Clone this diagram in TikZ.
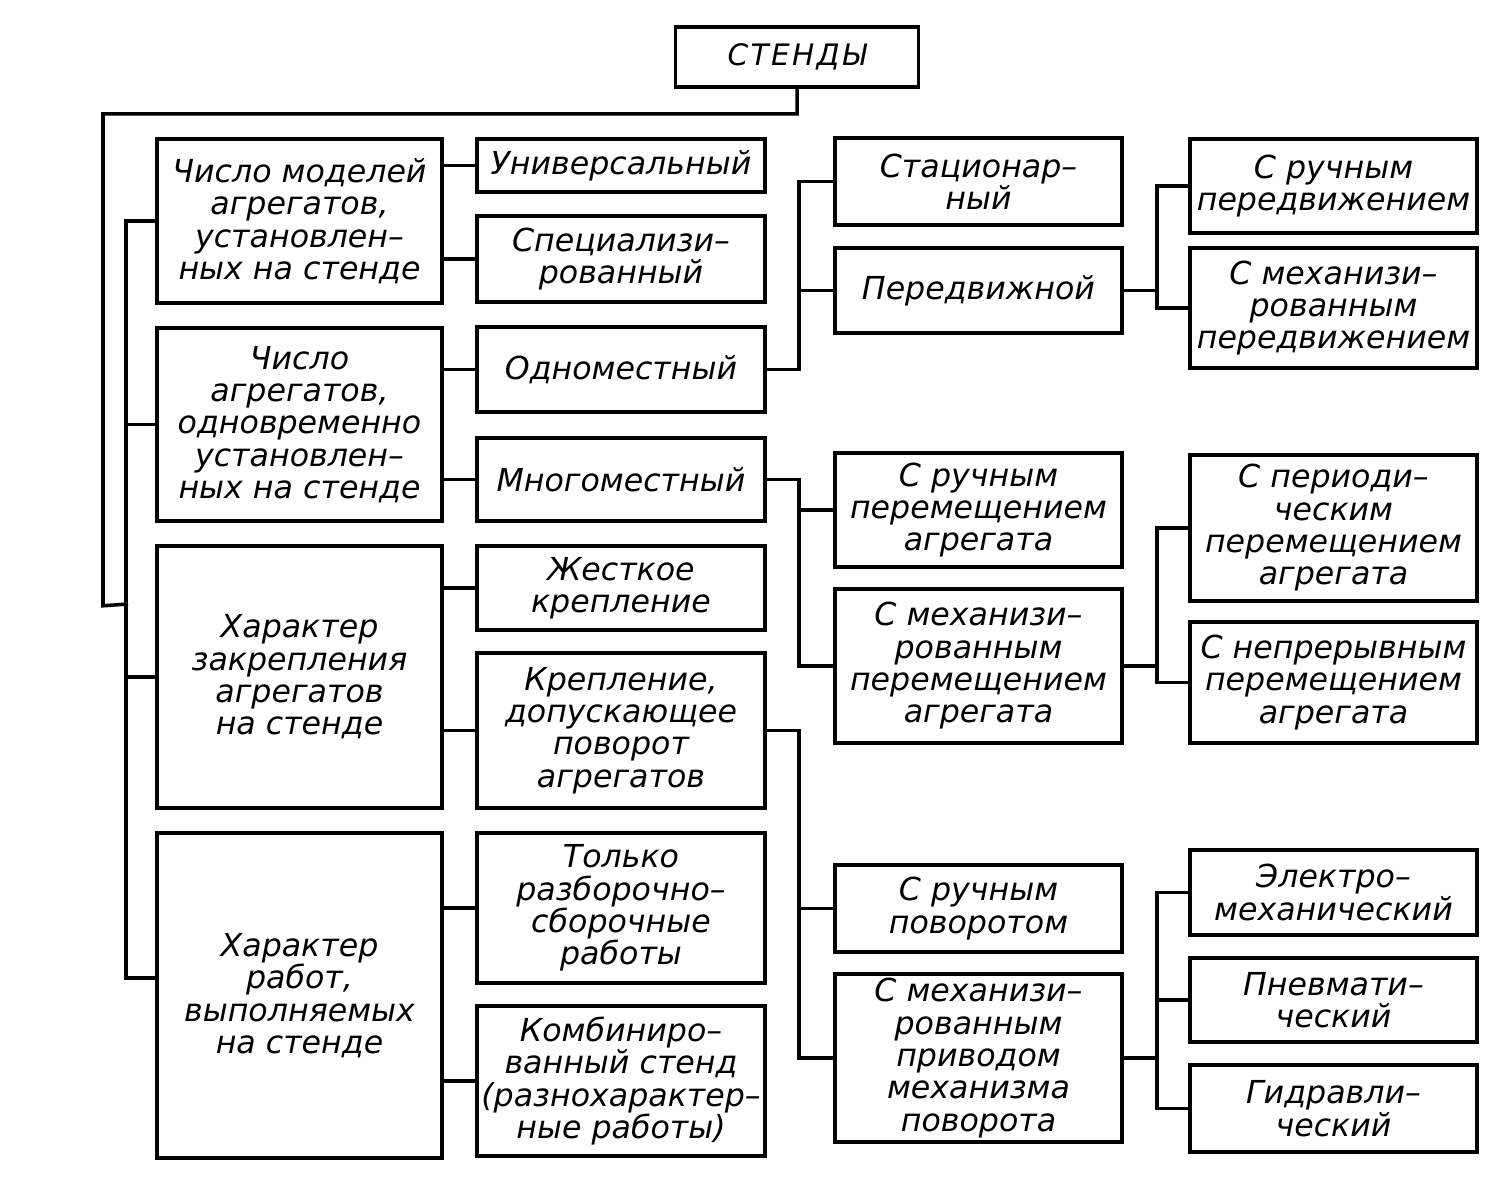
\documentclass[tikz,border=0pt]{standalone}
\usepackage{fontspec}
\newfontfamily\chert{DejaVu Sans}
\newfontfamily\chertwide{DejaVu Sans}[LetterSpace=8]
\usetikzlibrary{positioning}

\tikzset{
	blok/.style = {draw, line width=1pt, align=center, inner sep=0pt,
		font=\chert\itshape\fontsize{9}{9.2}\selectfont},
	kol1/.style = {blok, minimum width=2.85cm},
	kol2/.style = {blok, minimum width=2.88cm},
	kol3/.style = {blok, minimum width=2.87cm},
	svyaz/.style = {line width=1pt}
}

\begin{document}
\begin{tikzpicture}[x=0.01cm, y=-0.01cm]
	\useasboundingbox (0,0) rectangle (1501,1182);
	% vershina
	\node[blok, minimum width=2.43cm, minimum height=0.6cm, font=\chertwide\itshape\fontsize{8.4}{9}\selectfont] (stendy) at (797,57) {СТЕНДЫ};
	% priznaki
	\node[kol1, minimum height=1.64cm] (chm) at (299.5,221) {Число моделей\\агрегатов,\\установлен–\\ных на стенде};
	\node[kol1, minimum height=1.93cm] (cha) at (299.5,424.5) {Число\\агрегатов,\\одновременно\\установлен–\\ных на стенде};
	\node[kol1, minimum height=2.62cm] (hz) at (299.5,677) {Характер\\закрепления\\агрегатов\\на стенде};
	\node[kol1, minimum height=3.25cm] (hr) at (299.5,995.5) {Характер\\работ,\\выполняемых\\на стенде};
	% vtoroj stolbec
	\node[kol2, minimum height=0.53cm] (univ) at (621,165.5) {Универсальный};
	\node[kol2, minimum height=0.86cm] (spec) at (621,259) {Специализи–\\рованный};
	\node[kol2, minimum height=0.85cm] (odnom) at (621,369.5) {Одноместный};
	\node[kol2, minimum height=0.83cm] (mnogom) at (621,479.5) {Многоместный};
	\node[kol2, minimum height=0.84cm] (zhest) at (621,588) {Жесткое\\крепление};
	\node[kol2, minimum height=1.55cm] (povor) at (621,730.5) {Крепление,\\допускающее\\поворот\\агрегатов};
	\node[kol2, minimum height=1.50cm] (razb) at (621,908) {Только\\разборочно–\\сборочные\\работы};
	\node[kol2, minimum height=1.50cm] (komb) at (621,1081) {Комбиниро–\\ванный стенд\\(разнохарактер–\\ные работы)};
	% tretij stolbec
	\node[kol3, minimum height=0.87cm] (stac) at (978.5,181.5) {Стационар–\\ный};
	\node[kol3, minimum height=0.85cm] (pered) at (978.5,290.5) {Передвижной};
	\node[kol3, minimum height=1.14cm] (rperem) at (978.5,510) {С ручным\\перемещением\\агрегата};
	\node[kol3, minimum height=1.54cm] (mperem) at (978.5,666) {С механизи–\\рованным\\перемещением\\агрегата};
	\node[kol3, minimum height=0.87cm] (rpov) at (978.5,908.5) {С ручным\\поворотом};
	\node[kol3, minimum height=1.68cm] (mpriv) at (978.5,1058) {С механизи–\\рованным\\приводом\\механизма\\поворота};
	% chetvertyj stolbec
	\node[kol3, minimum height=0.94cm] (rpd) at (1333.5,186) {С ручным\\передвижением};
	\node[kol3, minimum height=1.20cm] (mpd) at (1333.5,308) {С механизи–\\рованным\\передвижением};
	\node[kol3, minimum height=1.46cm] (period) at (1333.5,528) {С периоди–\\ческим\\перемещением\\агрегата};
	\node[kol3, minimum height=1.21cm] (nepr) at (1333.5,682.5) {С непрерывным\\перемещением\\агрегата};
	\node[kol3, minimum height=0.85cm] (elek) at (1333.5,892.5) {Электро–\\механический};
	\node[kol3, minimum height=0.84cm] (pnev) at (1333.5,1000) {Пневмати–\\ческий};
	\node[kol3, minimum height=0.87cm] (gidr) at (1333.5,1108.5) {Гидравли–\\ческий};
	% svyazi
	\coordinate (vhod) at (128,604);
	\draw[svyaz] (stendy.south) -- ++(0,25) -| ++(-694,492) -- (vhod);
	\draw[svyaz] (chm.west) -- ++(-29,0) |- ([yshift=0.175cm]hr.west);
	\draw[svyaz] (cha.west) -- ++(-29,0);
	\draw[svyaz] (hz.west) -- ++(-29,0);
	\draw[svyaz] (univ.west) -- (univ.west -| chm.east);
	\draw[svyaz] (spec.west) -- (spec.west -| chm.east);
	\draw[svyaz] (odnom.west) -- (odnom.west -| cha.east);
	\draw[svyaz] (mnogom.west) -- (mnogom.west -| cha.east);
	\draw[svyaz] (zhest.west) -- (zhest.west -| hz.east);
	\draw[svyaz] (povor.west) -- (povor.west -| hz.east);
	\draw[svyaz] (razb.west) -- (razb.west -| hr.east);
	\draw[svyaz] (komb.west) -- (komb.west -| hr.east);
	\draw[svyaz] (odnom.east) -- ++(32,0) |- (stac.west);
	\draw[svyaz] (odnom.east) -- ++(32,0) |- (pered.west);
	\draw[svyaz] (mnogom.east) -- ++(32,0) |- (rperem.west);
	\draw[svyaz] (mnogom.east) -- ++(32,0) |- (mperem.west);
	\draw[svyaz] (povor.east) -- ++(32,0) |- (rpov.west);
	\draw[svyaz] (povor.east) -- ++(32,0) |- (mpriv.west);
	\draw[svyaz] (pered.east) -- ++(33,0) |- (rpd.west);
	\draw[svyaz] (pered.east) -- ++(33,0) |- (mpd.west);
	\draw[svyaz] (mperem.east) -- ++(33,0) |- (period.west);
	\draw[svyaz] (mperem.east) -- ++(33,0) |- (nepr.west);
	\draw[svyaz] (mpriv.east) -- ++(33,0) |- (elek.west);
	\draw[svyaz] (mpriv.east) -- ++(33,0) |- (pnev.west);
	\draw[svyaz] (mpriv.east) -- ++(33,0) |- (gidr.west);
\end{tikzpicture}
\end{document}
